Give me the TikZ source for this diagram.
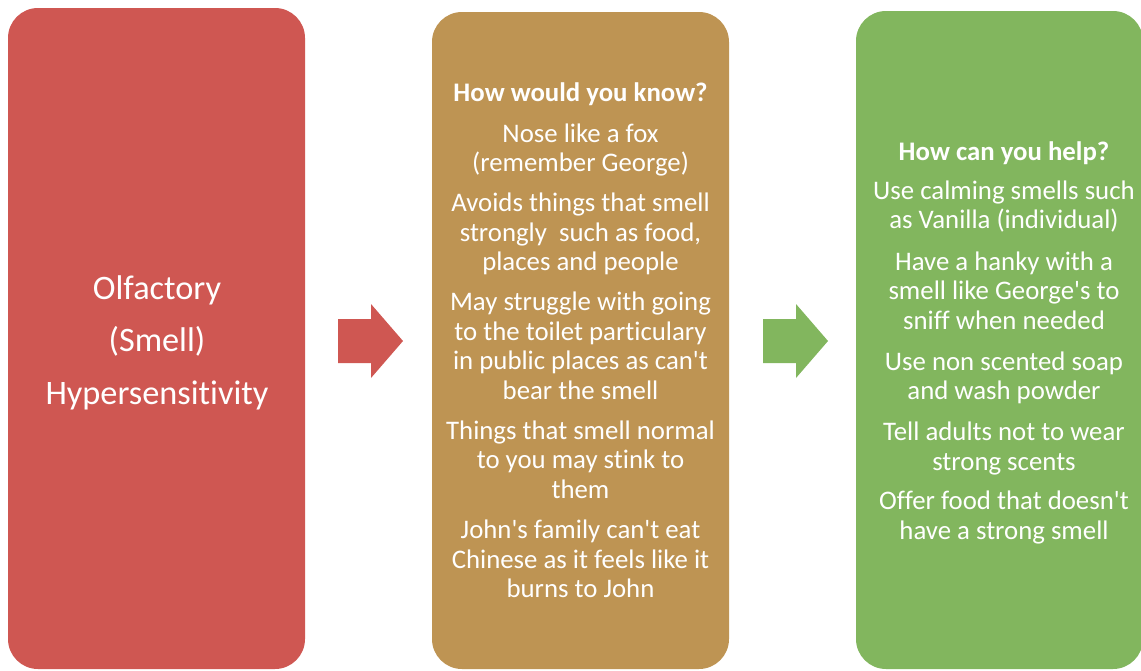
\documentclass[tikz,border=0pt]{standalone}
\usepackage{fontspec}
\setmainfont{Carlito}[Ligatures=NoCommon]
\definecolor{smellred}{RGB}{207,87,82}
\definecolor{knowtan}{RGB}{190,148,83}
\definecolor{helpgreen}{RGB}{130,182,94}
\newcommand{\apos}{\textquotesingle}
\begin{document}
\begin{tikzpicture}[x=1pt,y=-1pt,
  panel/.style={rounded corners=30pt, draw=none},
  paneltext/.style={text=white, align=center, inner sep=0pt,
    font=\fontsize{26.8}{29.5}\selectfont},
  pointer/.style={draw=none}]
\useasboundingbox (0,0) rectangle (1141,670);

% three coloured panels
\fill[panel, smellred] (8,8) rectangle (305,669);
\fill[panel, knowtan] (432,12) rectangle (729,669);
\fill[panel, helpgreen] (856,11) rectangle (1143,669);

% panel titles and bullet text
\node[paneltext, font=\fontsize{34.3}{52.5}\selectfont] (sense) at (157,342.5)
  {Olfactory\\(Smell)\\Hypersensitivity};

\node[paneltext] (know) at (580.5,340) {%
  \textbf{How would you know?}\\[11.5pt]
  Nose like a fox\\(remember George)\\[10.5pt]
  Avoids things that smell\\strongly\ \ such as food,\\places and people\\[10.5pt]
  May struggle with going\\to the toilet particulary\\in public places as can\apos t\\bear the smell\\[10.5pt]
  Things that smell normal\\to you may stink to\\them\\[11pt]
  John\apos s family can\apos t eat\\Chinese as it feels like it\\burns to John};

\node[paneltext] (help) at (1004,342.5) {%
  \textbf{How can you help?}\\[9.5pt]
  Use calming smells such\\as Vanilla (individual)\\[12pt]
  Have a hanky with a\\smell like George\apos s to\\sniff when needed\\[11.5pt]
  Use non scented soap\\and wash powder\\[11.5pt]
  Tell adults not to wear\\strong scents\\[10pt]
  Offer food that doesn\apos t\\have a strong smell};

% block arrows between the panels
\fill[pointer, smellred] (338,319) -- (371,319) -- (371,304) -- (403,341)
  -- (371,378) -- (371,363) -- (338,363) -- cycle;
\fill[pointer, helpgreen] (763,319) -- (796,319) -- (796,304) -- (828,341)
  -- (796,378) -- (796,363) -- (763,363) -- cycle;
\end{tikzpicture}
\end{document}
